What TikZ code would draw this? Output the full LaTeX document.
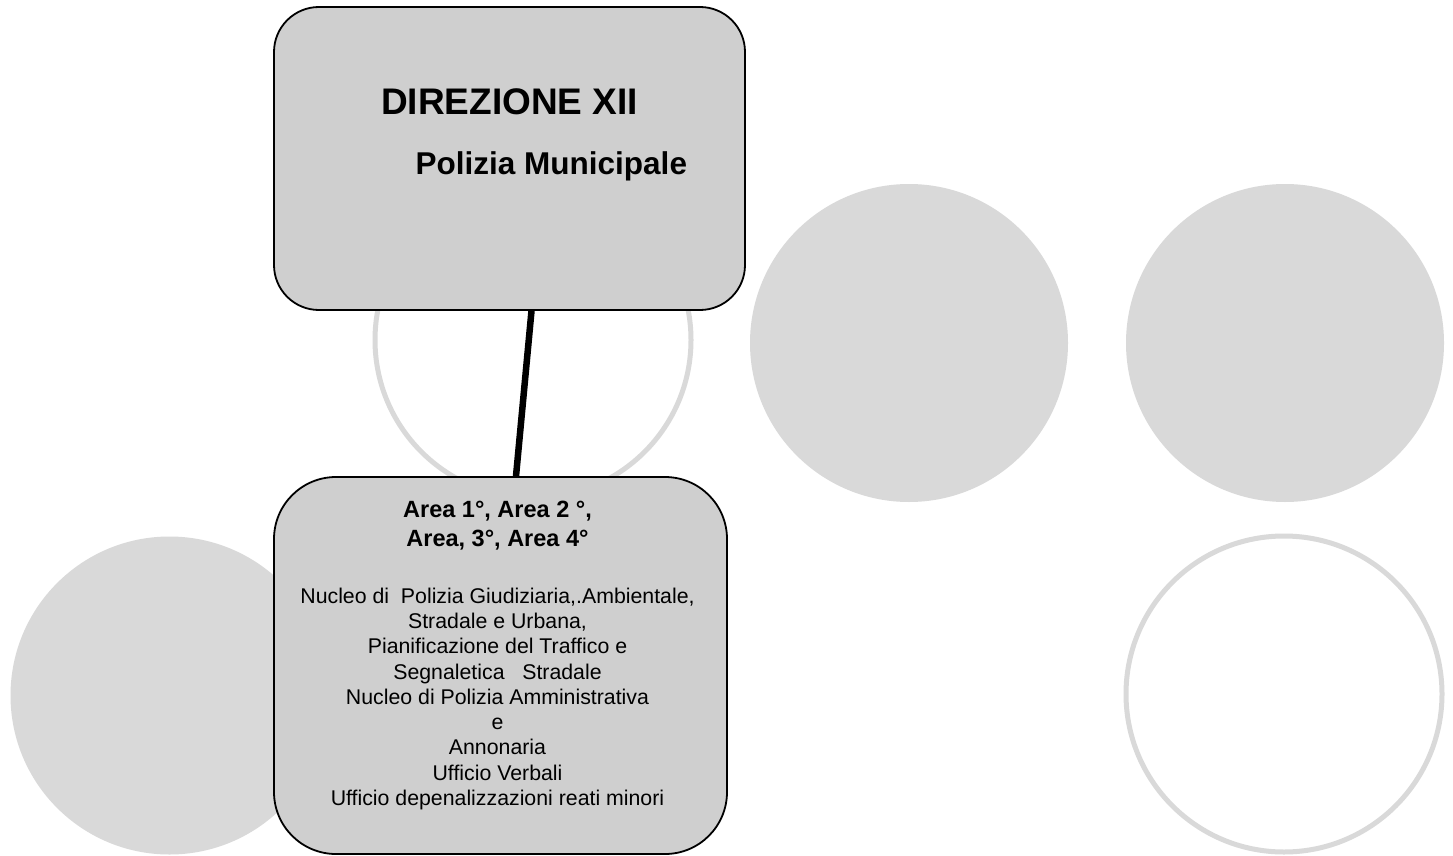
\documentclass[tikz,border=0pt]{standalone}
\usepackage{fontspec}
\setmainfont{Liberation Sans}
\begin{document}
\begin{tikzpicture}[x=1pt,y=-1pt,
  disc/.style={circle,inner sep=0pt,minimum size=318pt,fill=circgray,draw=none},
  ring/.style={circle,inner sep=0pt,minimum size=316pt,draw=circgray,line width=5pt,fill=white},
  unitbox/.style={rectangle,draw=black,line width=1.8pt,fill=boxgray,inner sep=0pt},
  link/.style={line width=6.5pt,black},
  txt/.style={inner sep=0pt,text=black}]
\definecolor{circgray}{HTML}{D9D9D9}
\definecolor{boxgray}{HTML}{CFCFCF}
\useasboundingbox (0,0) rectangle (1453,856);
\fill[white] (0,0) rectangle (1453,856);

% background circles
\node[ring] (c1) at (533,340) {};
\node[disc] (c2) at (909,343) {};
\node[disc] (c3) at (1285,343) {};
\node[ring] (c4) at (1284,694) {};
\node[disc] (c5) at (169.5,695.5) {};

% boxes
\node[unitbox,rounded corners=45pt,minimum width=471pt,minimum height=303pt] (dir) at (509.5,158.5) {};
\node[unitbox,rounded corners=62pt,minimum width=453pt,minimum height=377pt] (area) at (500.5,665.5) {};

% connector
\draw[link] ([xshift=22pt]dir.south) -- ([xshift=15.5pt]area.north);

% texts of the top box
\node[txt,anchor=base west,font=\bfseries\fontsize{37}{44}\selectfont] (t1) at (381,115) {DIREZIONE XII};
\node[txt,anchor=base west,font=\bfseries\fontsize{31.5}{38}\selectfont] (t2) at (415.5,175) {Polizia Municipale};

% texts of the lower box
\node[txt,anchor=north,align=center,font=\bfseries\fontsize{23.5}{28.5}\selectfont] (t3) at (497.5,501) {Area 1°, Area 2 °,\\ Area, 3°, Area 4°};
\node[txt,anchor=north,align=center,font=\fontsize{21.3}{25.3}\selectfont] (t4) at (497.5,587.5)
 {Nucleo di \ Polizia Giudiziaria,.Ambientale,\\
  Stradale e Urbana,\\
  Pianificazione del Traffico e\\
  Segnaletica \ \ Stradale\\
  Nucleo di Polizia Amministrativa\\
  e\\
  Annonaria\\
  Ufficio Verbali\\
  Ufficio depenalizzazioni reati minori};
\end{tikzpicture}
\end{document}
